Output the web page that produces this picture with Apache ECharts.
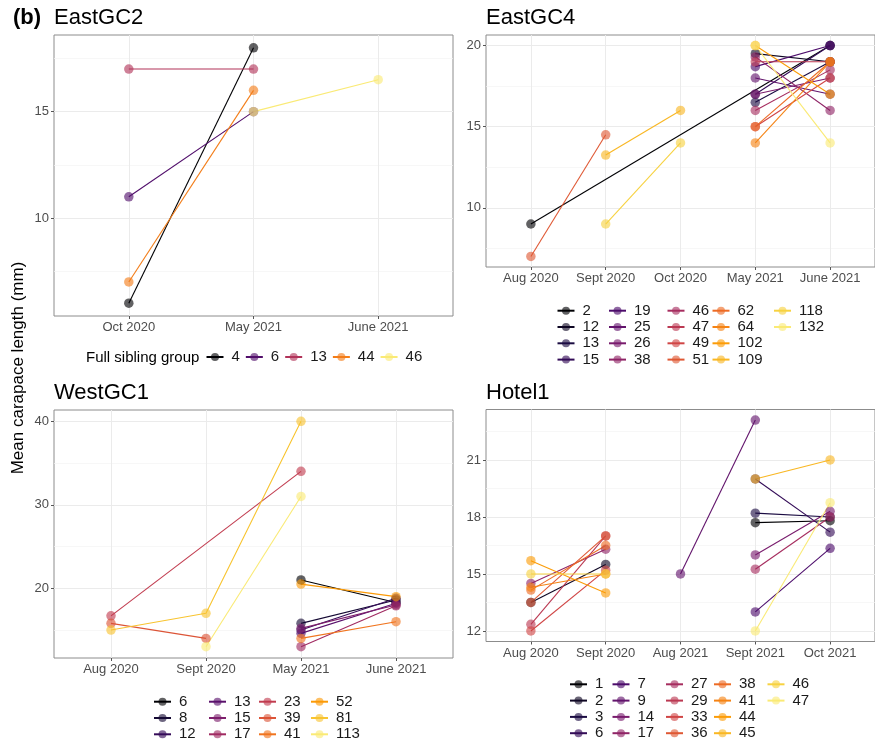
<!DOCTYPE html>
<html><head><meta charset="utf-8">
<script src="https://cdn.jsdelivr.net/npm/echarts@6/dist/echarts.min.js"></script>
<style>html,body{margin:0;padding:0;background:#fff}#c{width:875px;height:743px}</style>
</head><body><div id="c"></div>
<script>
// ---------- DATA ----------
// EastGC2
const eastGC2Categories = ['Oct 2020', 'May 2021', 'June 2021'];
const eastGC2Groups = ['4', '6', '13', '44', '46'];
const eastGC2Values = [
  [6, 18, null],
  [11, 15, null],
  [17, 17, null],
  [7, 16, null],
  [null, 15, 16.5]
];
const eastGC2YTicks = [10, 15];

// EastGC4
const eastGC4Categories = ['Aug 2020', 'Sept 2020', 'Oct 2020', 'May 2021', 'June 2021'];
const eastGC4Groups = ['2', '12', '13', '15', '19', '25', '26', '38', '46', '47', '49', '51', '62', '64', '102', '109', '118', '132'];
const eastGC4Values = [
  [9, null, null, null, 20],
  [null, null, null, 19.5, 19],
  [null, null, null, 16.5, 19],
  [null, null, null, 17, 20],
  [null, null, null, 18.7, 20],
  [null, null, null, 18, 17],
  [null, null, null, 17, 18],
  [null, null, null, 19.3, 16],
  [null, null, null, 16, 18.5],
  [null, null, null, 19, 19],
  [null, null, null, 15, 18],
  [7, 14.5, null, null, null],
  [null, null, null, 15, 19],
  [null, null, null, 14, 19],
  [null, null, null, 20, 17],
  [null, 13.25, 16, null, null],
  [null, 9, 14, null, null],
  [null, null, null, 20, 14]
];
const eastGC4YTicks = [10, 15, 20];

// WestGC1
const westGC1Categories = ['Aug 2020', 'Sept 2020', 'May 2021', 'June 2021'];
const westGC1Groups = ['6', '8', '12', '13', '15', '17', '23', '39', '41', '52', '81', '113'];
const westGC1Values = [
  [null, null, 21, 18.3],
  [null, null, 15.8, 18.6],
  [null, null, 15.0, 18.8],
  [null, null, 14.6, 18.2],
  [null, null, 15.2, 18.0],
  [null, null, 13.0, 17.9],
  [16.7, null, 34, null],
  [15.8, 14.0, null, null],
  [null, null, 14.0, 16.0],
  [null, null, 20.5, 19.0],
  [15.0, 17.0, 40, null],
  [null, 13.0, 31, null]
];
const westGC1YTicks = [20, 30, 40];

// Hotel1
const hotel1Categories = ['Aug 2020', 'Sept 2020', 'Aug 2021', 'Sept 2021', 'Oct 2021'];
const hotel1Groups = ['1', '2', '3', '6', '7', '9', '14', '17', '27', '29', '33', '36', '38', '41', '44', '45', '46', '47'];
const hotel1Values = [
  [null, null, null, 17.7, 17.8],
  [13.5, 15.5, null, null, null],
  [null, null, null, 18.2, 18.0],
  [null, null, null, 20, 17.2],
  [null, null, null, 13, 16.35],
  [null, null, 15, 23.1, null],
  [null, null, null, 16, 18.3],
  [14.5, 16.3, null, null, null],
  [null, null, null, 15.25, 18.0],
  [12.35, 17.0, null, null, null],
  [12.0, 15.2, null, null, null],
  [13.5, 17.0, null, null, null],
  [14.15, 16.5, null, null, null],
  [14.3, 15.0, null, null, null],
  [15.7, 14.0, null, null, null],
  [null, null, null, 20, 21],
  [15, 15, null, null, null],
  [null, null, null, 12, 18.75]
];
const hotel1YTicks = [12, 15, 18, 21];

// ---------- STYLE ----------
const FONT = '"Liberation Sans", Arial, Helvetica, sans-serif';
const INFERNO = ['#000004','#1B0C42','#4B0C6B','#781C6D','#A52C60','#CF4446','#ED6925','#FB9A06','#F7D03C','#FCFFA4'];
function inferno(t) {
  const p = t * (INFERNO.length - 1);
  const i = Math.min(INFERNO.length - 2, Math.floor(p));
  const f = p - i;
  const a = INFERNO[i], b = INFERNO[i + 1];
  const ch = (h, k) => parseInt(h.substr(1 + 2 * k, 2), 16);
  let out = '#';
  for (let k = 0; k < 3; k++) {
    const v = Math.round(ch(a, k) + (ch(b, k) - ch(a, k)) * f);
    out += v.toString(16).padStart(2, '0');
  }
  return out;
}
const PAL_END = 0.95;

const panels = [
  { key: 'p0', cats: eastGC2Categories, groups: eastGC2Groups, values: eastGC2Values,
    yMin: 5.4, yMax: 18.6, major: eastGC2YTicks, minor: [7.5, 12.5, 17.5],
    grid: { left: 54, top: 35, width: 399, height: 281 } },
  { key: 'p1', cats: eastGC4Categories, groups: eastGC4Groups, values: eastGC4Values,
    yMin: 6.35, yMax: 20.65, major: eastGC4YTicks, minor: [7.5, 12.5, 17.5],
    grid: { left: 486, top: 35, width: 399, height: 232 },
    legendCols: [[0,1,2,3],[4,5,6,7],[8,9,10,11],[12,13,14,15],[16,17]],
    legendX: [556.5, 608, 666.5, 711.5, 773], legendY: 302.7 },
  { key: 'p2', cats: westGC1Categories, groups: westGC1Groups, values: westGC1Values,
    yMin: 11.65, yMax: 41.35, major: westGC1YTicks, minor: [15, 25, 35],
    grid: { left: 54, top: 410, width: 399, height: 248 },
    legendCols: [[0,1,2],[3,4,5],[6,7,8],[9,10,11]],
    legendX: [153, 208, 258, 310], legendY: 693.7 },
  { key: 'p3', cats: hotel1Categories, groups: hotel1Groups, values: hotel1Values,
    yMin: 11.445, yMax: 23.655, major: hotel1YTicks, minor: [13.5, 16.5, 19.5, 22.5],
    grid: { left: 486, top: 409.5, width: 399, height: 232 },
    legendCols: [[0,1,2,3],[4,5,6,7],[8,9,10,11],[12,13,14,15],[16,17]],
    legendX: [569, 611.5, 665, 713, 766.5], legendY: 676.3 }
];

const option = {
  animation: false,
  backgroundColor: '#ffffff',
  textStyle: { fontFamily: FONT },
  grid: [], xAxis: [], yAxis: [], series: [], legend: [],
  graphic: []
};

const labelStyle = { fontSize: 13, color: '#4d4d4d', fontFamily: FONT };
const legendText = { fontSize: 15, color: '#1a1a1a', fontFamily: FONT, lineHeight: 16, padding: [0, 0, 0, 3] };

panels.forEach((p, gi) => {
  option.grid.push(Object.assign({ show: true, borderColor: '#8c8c8c', borderWidth: 1, backgroundColor: '#fff', containLabel: false }, p.grid));
  const n = p.cats.length;
  const xs = p.cats.map((_, i) => i + 1);
  option.xAxis.push({
    type: 'value', gridIndex: gi, min: 0.4, max: n + 0.6, position: 'bottom',
    axisLine: { show: false },
    axisTick: { show: true, customValues: xs, length: 3, lineStyle: { color: '#555', width: 1 } },
    axisLabel: Object.assign({ customValues: xs, margin: 5, formatter: v => p.cats[Math.round(v) - 1] || '' }, labelStyle),
    splitLine: { show: true, lineStyle: { color: '#ebebeb', width: 1 } }
  });
  option.yAxis.push({
    type: 'value', gridIndex: gi, min: p.yMin, max: p.yMax, position: 'left',
    axisLine: { show: false },
    axisTick: { show: false, customValues: p.minor },
    axisLabel: { show: false },
    splitLine: { show: true, lineStyle: { color: '#f3f3f3', width: 0.7 } }
  });
  option.yAxis.push({
    type: 'value', gridIndex: gi, min: p.yMin, max: p.yMax, position: 'left', offset: 0,
    axisLine: { show: false },
    axisTick: { show: true, customValues: p.major, length: 3, lineStyle: { color: '#555', width: 1 } },
    axisLabel: Object.assign({ customValues: p.major, margin: 5 }, labelStyle),
    splitLine: { show: true, lineStyle: { color: '#ebebeb', width: 1 } }
  });
  const ng = p.groups.length;
  p.groups.forEach((g, si) => {
    const col = inferno(ng > 1 ? si / (ng - 1) * PAL_END : 0);
    const data = [];
    p.values[si].forEach((v, i) => { if (v !== null && v !== undefined) data.push([i + 1, v]); });
    option.series.push({
      type: 'line', name: p.key + '_' + g,
      xAxisIndex: gi, yAxisIndex: gi * 2,
      data: data,
      symbol: 'circle', symbolSize: 9.5, showSymbol: true,
      lineStyle: { color: col, width: 1.1 },
      itemStyle: { color: col, opacity: 0.62 },
      emphasis: { disabled: true }, silent: true, z: 3
    });
  });
  if (p.legendCols) {
    p.legendCols.forEach((colIdx, ci) => {
      option.legend.push({
        orient: 'vertical', left: p.legendX[ci], top: p.legendY, height: 90, width: 60, padding: 0,
        itemGap: 0.3, itemWidth: 17, itemHeight: 10, selectedMode: false,
        data: colIdx.map(i => p.key + '_' + p.groups[i]),
        formatter: nm => nm.split('_')[1],
        textStyle: legendText
      });
    });
  }
});

// Panel 1 horizontal legend
option.legend.push({
  orient: 'horizontal', left: 205.5, top: 349, padding: 0,
  itemGap: 5, itemWidth: 17, itemHeight: 10, selectedMode: false,
  data: eastGC2Groups.map(g => 'p0_' + g),
  formatter: nm => nm.split('_')[1],
  textStyle: legendText
});

function txt(x, y, s, size, weight, extra) {
  return Object.assign({ type: 'text', x: x, y: y, silent: true,
    style: { text: s, fontSize: size, fontWeight: weight || 'normal', fontFamily: FONT, fill: '#000', textVerticalAlign: 'middle' } }, extra || {});
}
option.graphic = [
  txt(13, 18, '(b)', 22, 'bold'),
  txt(54, 18, 'EastGC2', 22),
  txt(486, 18, 'EastGC4', 22),
  txt(54, 392.5, 'WestGC1', 22),
  txt(486, 393, 'Hotel1', 22),
  txt(86, 357.5, 'Full sibling group', 15),
  { type: 'text', x: 18, y: 368, rotation: Math.PI / 2, silent: true,
    style: { text: 'Mean carapace length (mm)', fontSize: 17, fontFamily: FONT, fill: '#000', textAlign: 'center', textVerticalAlign: 'middle' } }
];

const chart = echarts.init(document.getElementById('c'), null, { renderer: 'canvas' });
chart.setOption(option);
</script>
</body></html>
